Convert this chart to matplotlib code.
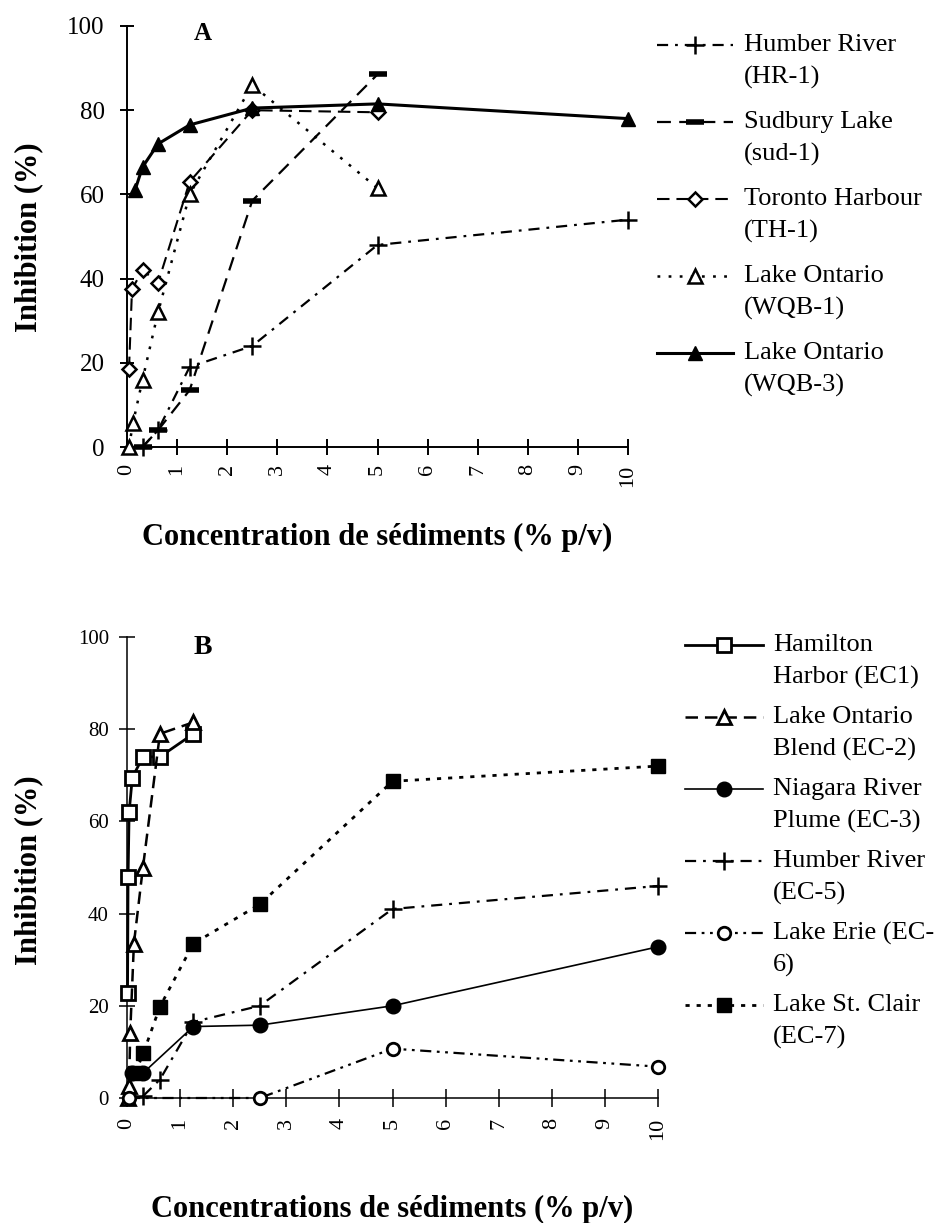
import matplotlib
matplotlib.use("Agg")
import matplotlib.pyplot as plt
from matplotlib.lines import Line2D
import numpy as np

plt.rcParams['font.family'] = ['Liberation Serif', 'DejaVu Serif']
plt.rcParams['lines.scale_dashes'] = False

W, H = 941, 1223

# --- Panel A : sediments, inhibition (%) vs concentration (% p/v)
hr1_x = [0.31, 0.62, 1.25, 2.5, 5, 10]
hr1_y = [0, 4, 19, 24, 48, 54]
sud1_x = [0.31, 0.62, 1.25, 2.5, 5]
sud1_y = [0, 4, 13.5, 58.5, 88.5]
th1_x = [0.04, 0.1, 0.31, 0.62, 1.25, 2.5, 5]
th1_y = [18.5, 37.5, 42, 39, 63, 80, 79.5]
wqb1_x = [0.04, 0.12, 0.31, 0.62, 1.25, 2.5, 5]
wqb1_y = [0, 5.7, 16, 32, 60, 86, 61.5]
wqb3_x = [0.16, 0.31, 0.62, 1.25, 2.5, 5, 10]
wqb3_y = [61, 66.5, 72, 76.5, 80.5, 81.5, 78]

labels_a = ["Humber River\n(HR-1)", "Sudbury Lake\n(sud-1)", "Toronto Harbour\n(TH-1)",
            "Lake Ontario\n(WQB-1)", "Lake Ontario\n(WQB-3)"]

# --- Panel B
ec1_x = [0.01, 0.02, 0.04, 0.1, 0.3, 0.62, 1.25]
ec1_y = [22.8, 48, 62, 69.5, 74, 74, 79]
ec2_x = [0.02, 0.04, 0.06, 0.13, 0.3, 0.62, 1.25]
ec2_y = [0, 2.5, 14, 33.5, 50, 79, 81.5]
ec3_x = [0.1, 0.31, 1.25, 2.5, 5, 10]
ec3_y = [5.5, 5.5, 15.5, 15.8, 20, 32.8]
ec5_x = [0.31, 0.62, 1.25, 2.5, 5, 10]
ec5_y = [0.5, 4, 16.5, 20, 41, 46]
ec6_x = [0.04, 2.5, 5, 10]
ec6_y = [0, 0, 10.7, 6.8]
ec7_x = [0.16, 0.31, 0.62, 1.25, 2.5, 5, 10]
ec7_y = [5.5, 9.8, 19.8, 33.5, 42, 68.7, 72]

labels_b = ["Hamilton\nHarbor (EC1)", "Lake Ontario\nBlend (EC-2)", "Niagara River\nPlume (EC-3)",
            "Humber River\n(EC-5)", "Lake Erie (EC-\n6)", "Lake St. Clair\n(EC-7)"]

xticks = list(range(0, 11))
yticks = [0, 20, 40, 60, 80, 100]

# line / marker styles
sty_a = [
    dict(lw=1.6, dashes=(8, 5, 2, 5), marker='+', ms=13, mew=1.8),
    dict(lw=1.6, dashes=(10, 6), marker='_', ms=13, mew=4),
    dict(lw=1.5, dashes=(9, 5), marker='D', ms=7.5, mew=1.8, mfc='white'),
    dict(lw=1.8, dashes=(2, 6), marker='^', ms=10, mew=1.8, mfc='white'),
    dict(lw=2.2, ls='-', marker='^', ms=10, mew=1),
]
sty_b = [
    dict(lw=2.0, ls='-', marker='s', ms=10, mew=2, mfc='white'),
    dict(lw=1.8, dashes=(9, 5), marker='^', ms=10, mew=2, mfc='white'),
    dict(lw=1.2, ls='-', marker='o', ms=10.5, mew=1),
    dict(lw=1.6, dashes=(8, 5, 2, 5), marker='+', ms=13, mew=1.8),
    dict(lw=1.6, dashes=(8, 4, 2, 4, 2, 4), marker='o', ms=9, mew=2, mfc='white'),
    dict(lw=2.0, dashes=(3, 5), marker='s', ms=10, mew=1),
]


def fx(x):
    return x / W


def fy(y):
    return 1 - y / H


def setup_axes(ax, ytick_size, spine_w, xtick_len, xpad, ytick_len, ypad):
    ax.set_xlim(0, 10)
    ax.set_ylim(0, 100)
    for s in ['top', 'right']:
        ax.spines[s].set_visible(False)
    for s in ['left', 'bottom']:
        ax.spines[s].set_linewidth(spine_w)
    ax.set_xticks(xticks)
    ax.set_yticks(yticks)
    ax.tick_params(axis='x', direction='inout', length=xtick_len, width=spine_w,
                   labelsize=16, pad=xpad, labelrotation=90)
    ax.tick_params(axis='y', direction='inout', length=ytick_len, width=spine_w,
                   labelsize=ytick_size, pad=ypad)


def add_key(fig, x0, x1, y, sty, text, line_gap=32, text_x=None):
    kw = dict(sty)
    marker = kw.pop('marker')
    ms = kw.pop('ms')
    mew = kw.pop('mew')
    mfc = kw.pop('mfc', 'black')
    ln = Line2D([fx(x0), fx(x1)], [fy(y), fy(y)], transform=fig.transFigure,
                color='black', **kw)
    fig.add_artist(ln)
    mk = Line2D([fx((x0 + x1) / 2)], [fy(y)], transform=fig.transFigure, ls='none',
                marker=marker, ms=ms, mew=mew, mfc=mfc, mec='black', color='black')
    fig.add_artist(mk)
    for i, part in enumerate(text.split('\n')):
        fig.text(fx(text_x), fy(y + i * line_gap), part, fontsize=19,
                 ha='left', va='center')


def draw(ax, x, y, sty, z):
    kw = dict(sty)
    mfc = kw.pop('mfc', 'black')
    ax.plot(x, y, color='black', mfc=mfc, mec='black', clip_on=False, zorder=z, **kw)


fig = plt.figure(figsize=(W / 100, H / 100), dpi=100)

# panel A
axA = fig.add_axes([fx(127), fy(447), (628 - 127) / W, (447 - 26) / H])
setup_axes(axA, 18, 1.4, 11, 7, 10, 11)
series_a = [(hr1_x, hr1_y), (sud1_x, sud1_y), (th1_x, th1_y), (wqb1_x, wqb1_y), (wqb3_x, wqb3_y)]
for i, ((x, y), s) in enumerate(zip(series_a, sty_a)):
    draw(axA, x, y, s, 3 + i)

fig.text(fx(203), fy(33), "A", fontsize=18, fontweight='bold', ha='center', va='center')
fig.text(fx(29), fy(237), "Inhibition (%)", fontsize=22, fontweight='bold',
         rotation=90, ha='center', va='center')
fig.text(fx(377), fy(545), "Concentration de sédiments (% p/v)", fontsize=22,
         fontweight='bold', ha='center', va='baseline')

for i, (lab, s) in enumerate(zip(labels_a, sty_a)):
    add_key(fig, 657, 733, 45 + i * 77, s, lab, text_x=744)

# panel B
axB = fig.add_axes([fx(127), fy(1098), (658 - 127) / W, (1098 - 637) / H])
setup_axes(axB, 15, 1.1, 13, 8, 12, 7)
series_b = [(ec1_x, ec1_y), (ec2_x, ec2_y), (ec3_x, ec3_y),
            (ec5_x, ec5_y), (ec6_x, ec6_y), (ec7_x, ec7_y)]
for i, ((x, y), s) in enumerate(zip(series_b, sty_b)):
    draw(axB, x, y, s, 3 + i)

fig.text(fx(203), fy(647), "B", fontsize=20, fontweight='bold', ha='center', va='center')
fig.text(fx(29), fy(870), "Inhibition (%)", fontsize=22, fontweight='bold',
         rotation=90, ha='center', va='center')
fig.text(fx(392), fy(1217), "Concentrations de sédiments (% p/v)", fontsize=22,
         fontweight='bold', ha='center', va='baseline')

for i, (lab, s) in enumerate(zip(labels_b, sty_b)):
    add_key(fig, 685, 763, 645 + i * 72, s, lab, text_x=773)

fig.savefig("out.png", dpi=100, facecolor='white')
